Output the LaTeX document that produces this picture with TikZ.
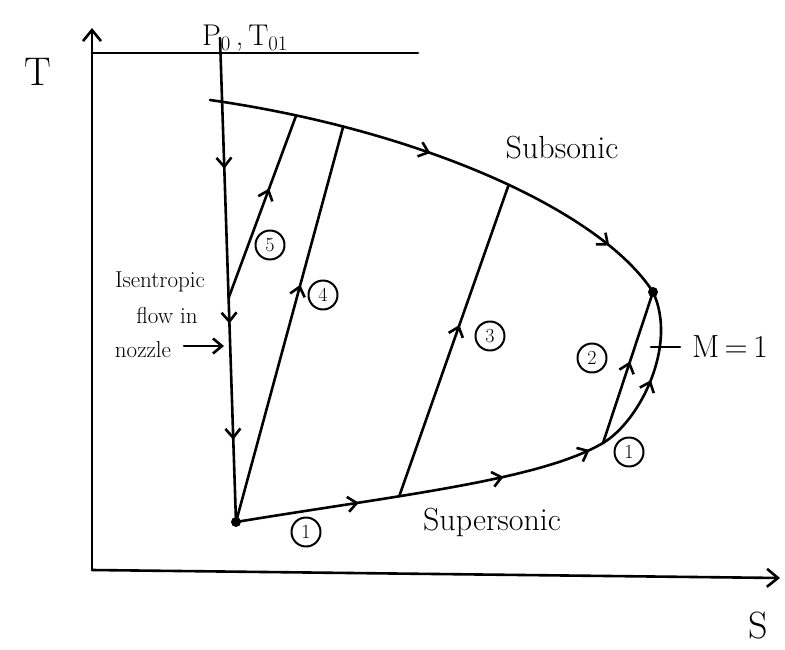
\documentclass[tikz,border=0pt]{standalone}
\usepackage{fontspec}
\usetikzlibrary{arrows.meta,decorations.markings}
\begin{document}
\begin{tikzpicture}[x=1pt,y=-1pt,line width=2.6pt,line cap=round,line join=round,
  barb/.style={-{Straight Barb[length=9pt,width=15pt]}},
  axistip/.style={-{Straight Barb[length=11pt,width=18pt]}},
  lbl/.style={inner sep=0pt,font=\fontsize{32}{36}\selectfont},
  side/.style={inner sep=0pt,font=\fontsize{23}{26}\selectfont},
  num/.style={circle,draw,line width=2pt,inner sep=0pt,minimum size=29pt,font=\fontsize{20}{22}\selectfont},
  arrowsat/.style={postaction={decorate},decoration={markings,mark=at position #1 with {\arrow{Straight Barb[length=9pt,width=15pt]}}}},
  dot/.style={circle,fill,inner sep=0pt,minimum size=10pt}]
\useasboundingbox (0,0) rectangle (785,650);

% fixed points
\coordinate (axO) at (92,570);
\coordinate (axT) at (92,28);
\coordinate (axS) at (780,578);
\coordinate (topL) at (92,53);
\coordinate (topR) at (418,53);
\coordinate (isoTop) at (220,38);
\coordinate (isoMid) at (228.6,298);
\coordinate (subStart) at (210,100);
\node[dot] (O) at (236,522) {};
\node[dot] (D) at (653,292) {};
\coordinate (B) at (603,443);
\coordinate (nozA) at (184,346);
\coordinate (nozB) at (224,346);
\coordinate (tickL) at (651,347);
\coordinate (tickR) at (680,347);

% axes
\draw[axistip] (axO) -- (axT);
\draw[axistip] (axO) -- (axS);
\draw (topL) -- (topR);

% isentropic line
\draw[postaction={decorate},decoration={markings,
   mark=at position 0.27 with {\arrow{Straight Barb[length=9pt,width=15pt]}},
   mark=at position 0.59 with {\arrow{Straight Barb[length=9pt,width=15pt]}},
   mark=at position 0.83 with {\arrow{Straight Barb[length=9pt,width=15pt]}}}]
  (isoTop) -- (O.center);
\draw[barb] (nozA) -- (nozB);

% subsonic (upper) curve
\draw[postaction={decorate},decoration={markings,
   mark=at position 0.46 with {\arrow{Straight Barb[length=9pt,width=15pt]}},
   mark=at position 0.87 with {\arrow{Straight Barb[length=9pt,width=15pt]}}}]
  (subStart) .. controls (420,130) and (600,210) .. coordinate[pos=0.14] (u5) coordinate[pos=0.22] (u4) coordinate[pos=0.54] (u3) (D.center);

% supersonic (lower) curve
\draw[postaction={decorate},decoration={markings,
   mark=at position 0.33 with {\arrow{Straight Barb[length=9pt,width=15pt]}},
   mark=at position 0.72 with {\arrow{Straight Barb[length=9pt,width=15pt]}},
   mark=at position 0.96 with {\arrow{Straight Barb[length=9pt,width=15pt]}}}]
  (O.center) .. controls (400,495) and (540,480) .. coordinate[pos=0.355] (s3) (B);
% branch up to the M=1 point
\draw[arrowsat=0.47] (B) .. controls (640,421) and (678,345) .. (D.center);

% shock lines
\draw[arrowsat=0.54] (B) -- (D.center);
\draw[arrowsat=0.55] (s3) -- (u3);
\draw[arrowsat=0.60] (O.center) -- (u4);
\draw[arrowsat=0.60] (isoMid) -- (u5);

% M = 1 tick
\draw (tickL) -- (tickR);

% labels
\node[inner sep=0pt,font=\fontsize{40}{44}\selectfont] (lT) at (38,72) {T};
\node[inner sep=0pt,font=\fontsize{38}{42}\selectfont] (lS) at (758,626) {S};
\node[inner sep=0pt,font=\fontsize{30}{34}\selectfont] (lP) at (245,38) {P$_0$\,,\,T$_{01}$};
\node[lbl] (lsub) at (562,148) {Subsonic};
\node[lbl] (lsup) at (492,522) {Supersonic};
\node[lbl] (lM) at (730,347) {M\,=\,1};
\node[side] (li1) at (160,282) {Isentropic};
\node[side] (li2) at (167,316) {flow in};
\node[side] (li3) at (143,350) {nozzle};

\node[num] (n5) at (270,245) {5};
\node[num] (n4) at (323,295) {4};
\node[num] (n3) at (490,336) {3};
\node[num] (n2) at (592,358) {2};
\node[num] (n1a) at (629,452) {1};
\node[num] (n1b) at (306,532) {1};
\end{tikzpicture}
\end{document}
